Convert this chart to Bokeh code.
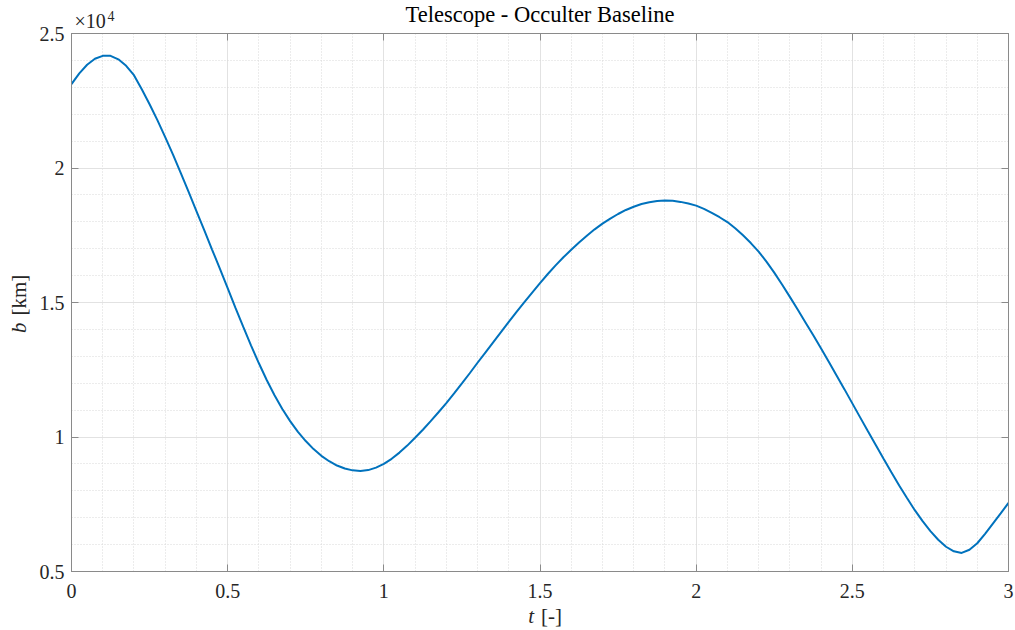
import numpy as np
from bokeh.plotting import figure
from bokeh.models import Range1d, FixedTicker, LinearAxis
from bokeh.layouts import row, column
from bokeh.core.properties import value
from bokeh.embed import file_html
from bokeh.resources import INLINE

# ---- data ----
t = [0.000, 0.025, 0.050, 0.075, 0.100, 0.125, 0.150, 0.175, 0.200, 0.225,
     0.250, 0.275, 0.300, 0.325, 0.350, 0.375, 0.400, 0.425, 0.450, 0.475,
     0.500, 0.525, 0.550, 0.575, 0.600, 0.625, 0.650, 0.675, 0.700, 0.725,
     0.750, 0.775, 0.800, 0.825, 0.850, 0.875, 0.900, 0.925, 0.950, 0.975,
     1.000, 1.025, 1.050, 1.075, 1.100, 1.125, 1.150, 1.175, 1.200, 1.225,
     1.250, 1.275, 1.300, 1.325, 1.350, 1.375, 1.400, 1.425, 1.450, 1.475,
     1.500, 1.525, 1.550, 1.575, 1.600, 1.625, 1.650, 1.675, 1.700, 1.725,
     1.750, 1.775, 1.800, 1.825, 1.850, 1.875, 1.900, 1.925, 1.950, 1.975,
     2.000, 2.025, 2.050, 2.075, 2.100, 2.125, 2.150, 2.175, 2.200, 2.225,
     2.250, 2.275, 2.300, 2.325, 2.350, 2.375, 2.400, 2.425, 2.450, 2.475,
     2.500, 2.525, 2.550, 2.575, 2.600, 2.625, 2.650, 2.675, 2.700, 2.725,
     2.750, 2.775, 2.800, 2.825, 2.850, 2.875, 2.900, 2.925, 2.950, 2.975,
     3.000]
b_km = [23120, 23520, 23840, 24060, 24170, 24170, 24040, 23800, 23450, 22930,
        22370, 21780, 21150, 20500, 19810, 19110, 18400, 17690, 16970, 16260,
        15530, 14800, 14090, 13400, 12740, 12120, 11550, 11040, 10590, 10190,
        9850, 9550, 9300, 9100, 8940, 8830, 8760, 8740, 8770, 8860,
        9000, 9190, 9420, 9680, 9970, 10270, 10590, 10920, 11260, 11620,
        11990, 12370, 12760, 13140, 13520, 13900, 14280, 14650, 15010, 15370,
        15720, 16060, 16380, 16680, 16960, 17230, 17480, 17720, 17930, 18120,
        18290, 18440, 18560, 18660, 18730, 18770, 18790, 18780, 18740, 18680,
        18600, 18480, 18330, 18170, 17990, 17760, 17500, 17210, 16890, 16520,
        16110, 15670, 15210, 14740, 14260, 13780, 13290, 12790, 12280, 11770,
        11250, 10730, 10210, 9700, 9190, 8690, 8200, 7730, 7280, 6870,
        6500, 6180, 5920, 5750, 5690, 5810, 6050, 6400, 6780, 7160,
        7550]

x_ticks = [0, 0.5, 1, 1.5, 2, 2.5, 3]
x_tick_labels = ["0", "0.5", "1", "1.5", "2", "2.5", "3"]
y_ticks = [5000, 10000, 15000, 20000, 25000]
y_tick_labels = ["0.5", "1", "1.5", "2", "2.5"]
x_minor = [round(0.1 * i, 1) for i in range(31)]
y_minor = [5000 + 1000 * i for i in range(21)]

title_text = "Telescope - Occulter Baseline"
exp_base = "\u00d710"
exp_power = "4"
x_label_var = "t"
x_label_unit = "[-]"
y_label_var = "b"
y_label_unit = "[km]"

FONT = "Liberation Serif"
AX = "#8a8a8a"
TXT = "#262626"

W = 1015
H = 630
LEFT_W = 36
TOP_H = 33
OVERLAP = 12      # main plot's (transparent) top border slides under the title strip
BOT_H = 22
OVERLAP_B = 10    # transparent x-label strip slides over main plot's bottom border
MAIN_W = W - LEFT_W
MAIN_H = H - TOP_H + OVERLAP - BOT_H
SHIFT = 7  # text glyph baseline correction (px)

xr = Range1d(0, 3)


def strip(width, height, x_range, y_range, bl, br, fill="white", margin=(0, 0, 0, 0)):
    f = figure(width=width, height=height, output_backend="svg", toolbar_location=None,
               x_range=x_range, y_range=y_range, x_axis_type=None, y_axis_type=None,
               min_border_left=bl, min_border_right=br, min_border_top=0,
               min_border_bottom=0, background_fill_color=fill,
               border_fill_color=fill, margin=margin)
    f.outline_line_color = None
    f.grid.visible = False
    return f


# ---- main plot ----
p = figure(width=MAIN_W, height=MAIN_H, output_backend="svg", toolbar_location=None,
           x_range=xr, y_range=Range1d(5000, 25000),
           min_border_left=70 - LEFT_W, min_border_right=7, min_border_top=OVERLAP,
           min_border_bottom=37, background_fill_color="white",
           border_fill_color=None, margin=(-OVERLAP, 0, 0, 0))
p.outline_line_color = AX
p.outline_line_width = 1

xt = FixedTicker(ticks=x_ticks, minor_ticks=x_minor)
yt = FixedTicker(ticks=y_ticks, minor_ticks=y_minor)

for ax in (p.xaxis[0], p.yaxis[0]):
    ax.major_tick_in = 7
    ax.major_tick_out = 0
    ax.minor_tick_in = 0
    ax.minor_tick_out = 0
    ax.axis_line_color = AX
    ax.major_tick_line_color = AX
    ax.major_label_text_font = FONT
    ax.major_label_text_font_size = "20px"
    ax.major_label_text_color = TXT
p.xaxis[0].ticker = xt
p.yaxis[0].ticker = yt
p.xaxis[0].major_label_overrides = {v: s for v, s in zip(x_ticks, x_tick_labels)}
p.yaxis[0].major_label_overrides = {v: s for v, s in zip(y_ticks, y_tick_labels)}
p.xaxis[0].major_label_standoff = 12
p.yaxis[0].major_label_standoff = 7

top = LinearAxis(ticker=FixedTicker(ticks=x_ticks, minor_ticks=[]))
right = LinearAxis(ticker=FixedTicker(ticks=y_ticks, minor_ticks=[]))
for ax in (top, right):
    ax.major_tick_in = 7
    ax.major_tick_out = 0
    ax.minor_tick_in = 0
    ax.minor_tick_out = 0
    ax.axis_line_color = AX
    ax.major_tick_line_color = AX
    ax.major_label_text_font_size = "0px"
    ax.major_label_standoff = 0
    ax.major_label_text_alpha = 0
p.add_layout(top, "above")
p.add_layout(right, "right")

p.xgrid.ticker = xt
p.ygrid.ticker = yt
for g in (p.xgrid, p.ygrid):
    g.grid_line_color = "#e2e2e2"
    g.grid_line_width = 1
    g.minor_grid_line_color = "#d8d8d8"
    g.minor_grid_line_dash = "1 2"
    g.minor_grid_line_width = 1

p.line(t, b_km, line_color="#0072BD", line_width=2)

# ---- top strip: title and exponent ----
top_fig = strip(MAIN_W, TOP_H, xr, Range1d(0, TOP_H), 70 - LEFT_W, 7)
top_fig.text(x=[1.5], y=[TOP_H - (21 - SHIFT)], text=[title_text], text_align="center",
             text_baseline="alphabetic", text_font=value(FONT),
             text_font_size=value("22.5px"), text_color="#000000")
top_fig.text(x=[0], y=[TOP_H - (27 - SHIFT)], text=[exp_base], x_offset=3, text_align="left",
             text_baseline="alphabetic", text_font=value(FONT),
             text_font_size=value("20px"), text_color=TXT)
top_fig.text(x=[0], y=[TOP_H - (20 - 5)], text=[exp_power], x_offset=36, text_align="left",
             text_baseline="alphabetic", text_font=value(FONT),
             text_font_size=value("14px"), text_color=TXT)

# ---- bottom strip (transparent): x label ----
BOT_FULL = BOT_H + OVERLAP_B
bot_top = H - BOT_FULL
bot_fig = strip(MAIN_W, BOT_FULL, xr, Range1d(0, BOT_FULL), 70 - LEFT_W, 7,
                fill=None, margin=(-OVERLAP_B, 0, 0, 0))
bot_fig.text(x=[1.5], y=[BOT_FULL - (622 - SHIFT - bot_top)], text=[x_label_var], x_offset=-6,
             text_align="right", text_baseline="alphabetic", text_font=value(FONT),
             text_font_style="italic", text_font_size=value("21px"), text_color=TXT)
bot_fig.text(x=[1.5], y=[BOT_FULL - (622 - SHIFT - bot_top)], text=[x_label_unit], x_offset=1,
             text_align="left", text_baseline="alphabetic", text_font=value(FONT),
             text_font_size=value("21px"), text_color=TXT)

# ---- left strip: y label ----
left_fig = strip(LEFT_W, H, Range1d(0, LEFT_W), Range1d(0, H), 0, 0)
left_fig.text(x=[25 - SHIFT], y=[H - 322], text=[y_label_var], angle=np.pi / 2,
              text_align="right", text_baseline="alphabetic", text_font=value(FONT),
              text_font_style="italic", text_font_size=value("21px"), text_color=TXT)
left_fig.text(x=[25 - SHIFT], y=[H - 315], text=[y_label_unit], angle=np.pi / 2,
              text_align="left", text_baseline="alphabetic", text_font=value(FONT),
              text_font_size=value("21px"), text_color=TXT)

layout = row(left_fig, column(top_fig, p, bot_fig, spacing=0), spacing=0)

open("out.html", "w").write(file_html(layout, INLINE))
